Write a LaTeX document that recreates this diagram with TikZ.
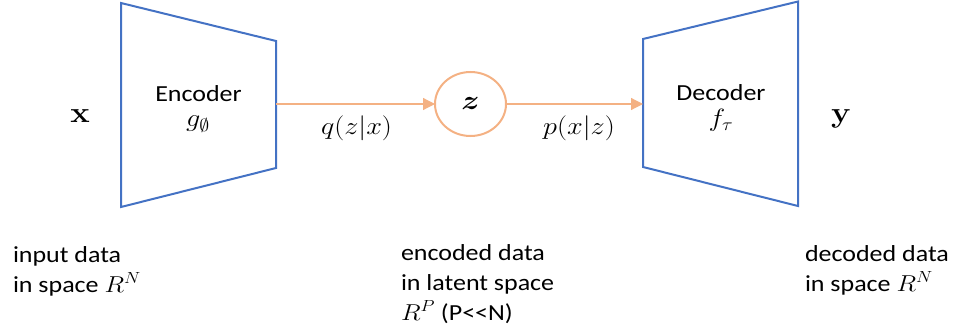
\RequirePackage{fix-cm}
\documentclass[tikz,border=0pt]{standalone}
\usepackage[no-math]{fontspec}
\setmainfont{Carlito}
\usepackage{bm}
\usetikzlibrary{arrows.meta,shapes.geometric}

\definecolor{netblue}{HTML}{4472C4}
\definecolor{flowpeach}{HTML}{F4B183}

% text is set slightly wide
\newcommand{\hs}[1]{\scalebox{1.13}[1]{#1}}

\tikzset{
  net/.style={draw=netblue, line width=2pt, line join=miter},
  flow/.style={draw=flowpeach, line width=1.2pt, -{Triangle[length=12pt,width=12pt]}},
  latent/.style={ellipse, draw=flowpeach, line width=2pt, minimum width=71pt, minimum height=64pt,
    font=\fontsize{27}{30}\selectfont},
  mathlbl/.style={anchor=base, font=\fontsize{25}{30}\selectfont},
  boldvar/.style={anchor=base, font=\fontsize{29}{30}\selectfont},
  caption/.style={anchor=base west, font=\fontsize{23}{30}\selectfont}
}

\begin{document}
\begin{tikzpicture}[x=1pt, y=-1pt,
  every node/.style={inner sep=0pt, outer sep=0pt},
  font=\fontsize{23}{30}\selectfont]
\useasboundingbox (0,0) rectangle (960,334);

% encoder and decoder bodies
\draw[net] (121,3) -- (276,41) -- (276,168) -- (121,207) -- cycle;
\draw[net] (643,39) -- (798,1.5) -- (798,206) -- (643,167) -- cycle;
\coordinate (encout) at (276,104);
\coordinate (decin) at (643,104);

% latent variable
\node[latent] (z) at (470.5,104) {\hs{$\bm{z}$}};

% flows
\draw[flow] (encout) -- (z.west);
\draw[flow] (z.east) -- (decin);

% labels inside the bodies
\node[anchor=base] (enc) at (198.5,102) {\hs{Encoder}};
\node[mathlbl] (gphi) at (198,127) {\hs{$g_{\emptyset}$}};
\node[anchor=base] (dec) at (721,101) {\hs{Decoder}};
\node[mathlbl] (ftau) at (721,127) {\hs{$f_{\tau}$}};

% input / output
\node[boldvar] (xin) at (80,122) {\hs{$\mathbf{x}$}};
\node[boldvar] (yout) at (841,122) {\hs{$\mathbf{y}$}};

% conditional distributions
\node[mathlbl] (qlbl) at (356.5,134) {\hs{$q(z|x)$}};
\node[mathlbl] (plbl) at (579,134) {\hs{$p(x|z)$}};

% captions
\node[caption] (incap) at (13,262)
  {\hs{\begin{tabular}[t]{@{}l@{}}input data\\ in space $R^N$\end{tabular}}};
\node[caption] (latcap) at (401,260)
  {\hs{\begin{tabular}[t]{@{}l@{}}encoded data\\ in latent space\\ $R^P$ (P{<}{<}N)\end{tabular}}};
\node[caption] (outcap) at (805,261)
  {\hs{\begin{tabular}[t]{@{}l@{}}decoded data\\ in space $R^N$\end{tabular}}};
\end{tikzpicture}
\end{document}
